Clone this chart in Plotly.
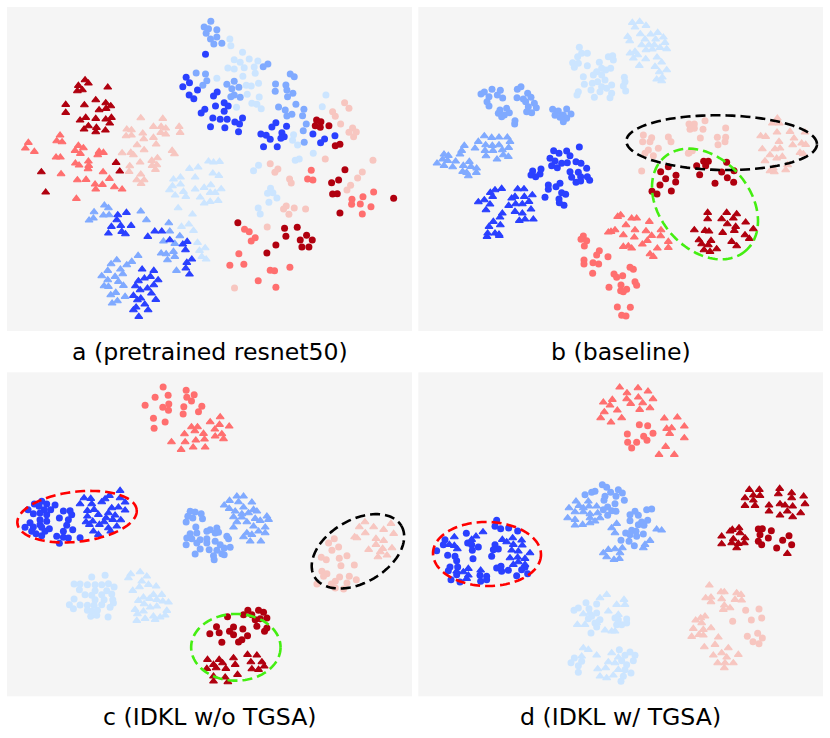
import math
import plotly.graph_objects as go

DARK = "#b0000f"
SALMON = "#ff6f6f"
PINK = "#f7c6c0"
LIGHT = "#cce5ff"
MID = "#80aaff"
BLUE = "#2a40ff"
BG = "#f5f5f5"

TITLES = ["a (pretrained resnet50)", "b (baseline)", "c (IDKL w/o TGSA)", "d (IDKL w/ TGSA)"]

# ---------- panel a ----------
A_DARK_TRI = [(255,240),(265,250),(235,257),(323,262),(232,273),(247,270),(197,314),(253,315),(287,300),(197,338),(317,309),(332,318),(297,330),(318,326),(257,353),(240,361),(287,356),(317,358),(334,353),(329,370),(265,378),(252,388),(289,383),(287,396),(316,391),(348,488),(359,514),(124,516),(137,577)]
A_SALMON_TRI = [(85,428),(76,445),(103,455),(180,406),(170,423),(186,426),(168,472),(181,472),(235,437),(250,444),(225,452),(241,461),(297,455),(310,458),(293,465),(226,490),(237,496),(265,484),(266,497),(264,507),(309,516),(183,522),(232,540),(258,539),(328,536),(285,553),(307,554),(287,568),(343,561),(366,568),(229,596)]
A_PINK_TRI = [(422,354),(488,356),(380,388),(394,390),(378,408),(394,406),(460,380),(483,380),(497,385),(537,380),(482,398),(497,403),(540,398),(428,400),(431,417),(460,413),(411,435),(468,433),(432,450),(366,459),(392,458),(400,465),(516,452),(523,462),(472,474),(455,482),(420,487),(389,498),(470,495),(456,497),(466,509),(387,515),(422,523),(410,540),(432,540),(423,551)]
A_LIGHT_TRI = [(625,484),(658,485),(640,487),(594,502),(568,506),(638,520),(585,532),(520,538),(541,532),(656,527),(632,555),(517,558),(541,553),(585,568),(612,563),(663,567),(508,570),(550,575),(525,586),(557,590),(630,578),(645,578),(600,592),(654,602),(630,605),(612,610),(534,624),(577,643),(566,673),(544,680),(580,692),(592,728),(615,744),(598,752),(605,770),(618,778)]
A_MID_TRI = [(313,616),(325,624),(282,636),(280,655),(267,661),(310,646),(327,645),(422,634),(439,660),(506,669),(509,694),(490,724),(524,731),(539,708),(520,755),(483,760),(498,762),(524,770),(502,780),(529,812),(414,767),(350,780),(333,792),(395,785),(380,795),(323,812),(361,808),(368,822),(345,830),(305,828),(355,845),(323,840),(312,858),(325,860),(370,857),(347,878),(332,885),(375,890),(352,903),(336,910)]
A_BLUE_TRI = [(379,638),(353,645),(350,660),(334,680),(362,677),(393,677),(365,695),(325,700),(376,702),(464,694),(485,694),(443,710),(509,720),(561,725),(548,733),(556,750),(575,778),(560,788),(557,805),(568,823),(426,808),(461,812),(451,830),(433,835),(474,840),(415,843),(406,858),(461,855),(420,870),(442,865),(400,887),(422,895),(454,880),(467,899),(412,900),(434,913),(408,922),(400,930),(444,930),(416,950)]
A_LIGHT_CIR = [(689,117),(692,137),(727,157),(702,179),(720,187),(747,177),(773,183),(683,204),(702,207),(732,203),(762,201),(765,220),(728,229),(650,235),(775,250),(738,256),(753,258),(741,283),(777,291),(755,310),(770,313),(783,326),(709,322),(977,285),(966,320),(880,404),(877,421),(892,435),(939,460),(885,481),(897,477),(775,496),(760,512),(811,565),(802,580),(818,578),(830,594),(806,607),(774,624),(780,642)]
A_MID_CIR = [(632,64),(612,81),(650,89),(625,86),(618,100),(650,111),(631,117),(641,132),(665,130),(803,192),(789,200),(588,219),(616,222),(620,242),(608,256),(702,244),(680,253),(716,262),(695,266),(702,285),(720,292),(692,290),(870,222),(882,230),(826,252),(825,274),(857,255),(860,270),(878,280),(862,290),(835,321),(855,330),(887,313),(911,328),(860,348),(875,343),(907,347),(918,372),(909,392),(912,427)]
A_BLUE_CIR = [(616,163),(558,232),(568,248),(548,260),(592,270),(567,285),(581,296),(651,276),(640,288),(646,318),(672,308),(684,318),(672,334),(614,328),(603,339),(638,354),(660,358),(681,358),(727,354),(704,366),(718,372),(631,380),(674,383),(715,395),(827,368),(815,381),(859,379),(782,402),(798,406),(810,418),(845,398),(852,410),(842,415),(790,440),(831,440),(938,402),(1004,407),(973,417),(961,428)]
A_PINK_CIR = [(1033,308),(1046,325),(997,335),(1005,349),(1021,372),(1057,384),(1046,397),(1068,396),(1060,410),(975,477),(1118,481),(810,491),(833,507),(824,517),(868,537),(873,549),(1086,516),(1072,534),(1051,556),(1040,570),(858,618),(850,627),(882,624),(916,627),(866,643),(801,681),(703,864)]
A_SALMON_CIR = [(933,511),(922,537),(938,540),(1120,576),(1055,598),(1088,590),(1054,613),(1080,612),(1112,620),(1086,642),(733,688),(747,695),(765,713),(753,723),(716,761),(689,796),(731,793),(810,811),(823,812),(869,802),(774,842),(827,862)]
A_DARK_CIR = [(949,360),(962,365),(945,377),(960,382),(986,377),(1005,437),(1019,433),(1034,509),(994,548),(1015,540),(997,582),(1011,581),(1019,639),(1180,595),(713,668),(853,685),(891,682),(857,709),(919,706),(900,720),(936,720),(905,741),(926,741),(827,735),(800,759)]

# ---------- panel b ----------
B_LIGHT_TRI = [(674,65),(652,68),(693,77),(660,82),(676,102),(707,103),(728,98),(638,110),(644,123),(690,118),(722,118),(745,112),(750,128),(680,135),(702,135),(718,135),(755,147),(735,143),(712,148),(693,150),(660,155),(645,160),(668,165),(655,175),(692,177),(726,172),(673,197),(740,187),(720,200),(755,210),(733,216),(742,232),(725,238),(740,243)]
B_LIGHT_CIR = [(493,142),(500,160),(517,160),(488,170),(473,188),(490,190),(478,202),(517,197),(553,187),(580,170),(593,167),(595,180),(587,205),(560,205),(572,210),(545,215),(505,230),(535,225),(560,225),(570,240),(628,232),(630,245),(548,245),(508,253),(532,250),(590,255),(560,260),(575,265),(625,258),(632,273),(490,275),(486,285),(528,270),(555,275),(590,280),(538,292),(585,293)]
B_MID_CIR = [(231,268),(208,276),(198,282),(256,271),(247,285),(263,294),(222,290),(216,305),(222,318),(318,260),(307,268),(338,280),(348,292),(306,293),(325,297),(332,305),(358,310),(364,323),(340,320),(335,335),(350,338),(275,325),(255,330),(250,340),(268,345),(283,338),(260,350),(300,362),(299,372),(413,328),(430,333),(455,327),(468,342),(445,345),(420,346),(435,352),(455,355),(445,365)]
B_MID_TRI = [(208,408),(230,413),(252,412),(277,412),(190,425),(285,425),(148,437),(180,445),(212,435),(232,437),(252,435),(281,443),(210,452),(234,452),(262,450),(140,452),(87,463),(100,467),(135,463),(213,468),(246,478),(265,465),(280,470),(83,478),(122,484),(98,482),(66,490),(87,497),(113,501),(163,485),(145,497),(185,505),(168,500),(143,515),(155,518),(184,518),(160,528)]
B_BLUE_CIR = [(493,441),(416,452),(455,453),(432,460),(465,467),(405,475),(420,483),(440,490),(457,488),(410,497),(427,503),(483,485),(498,490),(515,505),(378,507),(353,513),(348,525),(362,530),(375,522),(465,515),(490,517),(470,532),(497,530),(517,530),(524,541),(483,547),(497,543),(400,555),(435,550),(423,560),(400,568),(440,578),(452,583),(390,592),(432,597),(433,608),(447,616)]
B_BLUE_TRI = [(260,566),(240,570),(308,567),(327,567),(226,578),(233,590),(290,595),(300,590),(328,590),(352,585),(190,606),(208,600),(225,613),(213,630),(281,617),(302,612),(322,612),(342,605),(348,628),(300,635),(322,640),(262,640),(255,652),(235,665),(330,658),(355,658),(313,662),(222,680),(256,675),(218,700),(240,700),(252,703),(216,710),(253,707)]
B_SALMON_TRI = [(617,645),(608,650),(650,655),(665,655),(633,675),(703,665),(588,695),(600,690),(580,697),(660,690),(693,693),(738,690),(625,705),(710,707),(658,712),(737,708),(697,722),(760,725),(640,738),(625,740),(682,733),(650,745),(727,745),(760,743),(705,762),(715,770)]
B_SALMON_CIR = [(505,708),(498,718),(515,722),(508,738),(553,752),(545,765),(579,770),(507,780),(507,792),(534,788),(551,792),(533,820),(645,802),(655,808),(597,822),(605,832),(623,827),(660,845),(665,856),(582,862),(618,855),(635,868),(617,872),(625,875),(607,921),(646,922),(620,946),(633,948)]
B_PINK_CIR = [(685,405),(710,413),(683,425),(705,425),(760,411),(768,425),(700,450),(730,445),(690,460),(715,467),(680,513),(838,372),(822,372),(870,362),(825,388),(838,385),(864,388),(932,384),(856,414),(907,412),(932,412),(909,434),(930,425),(822,458),(832,452),(820,460)]
B_PINK_TRI = [(1087,355),(1072,370),(1093,370),(1170,397),(1086,397),(1125,395),(1037,408),(1052,410),(1137,415),(1092,425),(1160,430),(1172,434),(1133,435),(1042,447),(1080,447),(1095,445),(1065,465),(1155,458),(1165,462),(1102,470),(1085,475),(1050,483),(1118,495),(1075,505),(1112,510),(1065,513),(1078,516)]
B_DARK_CIR = [(866,484),(880,484),(872,497),(845,497),(935,487),(760,500),(737,515),(783,526),(752,536),(782,546),(735,555),(854,524),(920,516),(957,512),(937,533),(900,550),(956,547),(769,573),(711,574),(726,582)]
B_DARK_TRI = [(878,638),(935,638),(965,642),(955,655),(920,657),(878,657),(992,667),(937,672),(962,680),(838,690),(870,692),(882,694),(958,692),(923,698),(1015,687),(990,705),(1003,716),(852,720),(888,722),(950,725),(860,732),(880,735),(965,738),(867,750),(905,747),(885,755)]

# ---------- panel c ----------
C_SALMON_CIR = [(489,57),(558,67),(465,88),(504,82),(582,80),(560,88),(574,99),(435,112),(506,108),(488,118),(551,116),(605,115),(505,127),(595,131),(549,138),(460,151),(495,162),(462,181)]
C_SALMON_TRI = [(660,147),(630,162),(658,170),(687,175),(574,177),(592,177),(644,184),(584,189),(553,198),(610,197),(645,205),(665,198),(514,222),(555,222),(587,217),(613,214),(670,213),(579,238),(615,238),(543,245)]
C_BLUE_CIR = [(125,400),(103,408),(140,408),(165,411),(84,425),(117,415),(133,425),(152,425),(100,437),(120,435),(140,440),(190,429),(210,428),(215,440),(178,450),(120,455),(140,460),(205,455),(90,464),(120,470),(75,478),(100,477),(125,478),(148,482),(200,472),(218,485),(95,490),(135,490),(190,490),(108,497),(125,503),(170,505),(190,508),(205,510),(240,509),(178,526)]
C_BLUE_TRI = [(360,368),(328,383),(252,390),(272,392),(315,393),(360,390),(240,408),(275,408),(305,402),(375,403),(335,420),(355,418),(262,428),(282,425),(375,427),(325,435),(345,442),(262,445),(295,440),(318,450),(338,455),(258,462),(278,460),(312,462),(362,456),(268,470),(298,470),(325,480),(350,475),(280,490),(332,490),(295,500)]
C_MID_CIR = [(570,430),(585,432),(603,437),(563,445),(578,450),(607,452),(558,462),(587,477),(630,485),(650,480),(620,490),(645,495),(655,493),(570,497),(590,495),(680,505),(685,512),(560,510),(575,512),(600,515),(620,512),(645,520),(558,530),(590,525),(620,525),(660,530),(600,543),(627,545),(672,540),(690,538),(650,547),(585,558),(665,557),(640,563),(672,560),(642,575)]
C_MID_TRI = [(710,385),(730,385),(688,398),(715,402),(755,403),(672,412),(687,422),(730,418),(705,430),(760,425),(725,438),(745,435),(770,430),(700,447),(725,448),(765,452),(800,445),(780,458),(805,455),(710,462),(740,462),(700,478),(760,475),(795,478),(775,490),(740,495),(755,500),(795,495),(730,507),(750,520),(782,520)]
C_LIGHT_CIR = [(315,622),(275,627),(222,648),(240,648),(262,650),(285,650),(305,650),(325,647),(342,657),(238,665),(285,668),(320,668),(255,680),(275,682),(305,680),(335,678),(222,693),(285,695),(312,695),(338,695),(208,710),(240,711),(220,722),(262,712),(282,712),(305,710),(340,705),(330,718),(275,730),(292,727),(262,727),(272,745),(290,742),(324,747)]
C_LIGHT_TRI = [(420,612),(392,618),(385,630),(440,625),(425,640),(445,650),(418,657),(398,668),(468,655),(460,680),(430,688),(485,680),(448,692),(505,703),(415,698),(470,695),(488,700),(432,708),(405,725),(450,718),(470,715),(500,728),(430,730),(412,738),(460,745),(495,742),(480,748),(410,758),(435,752),(465,755)]
C_PINK_TRI = [(1094,462),(1172,467),(1077,477),(1120,477),(1150,485),(1095,495),(1180,497),(1063,507),(1070,510),(1127,512),(1150,518),(1127,530),(1105,545),(1147,542),(1175,540),(1140,552),(1133,567),(1160,562)]
C_PINK_CIR = [(1002,512),(985,525),(1015,537),(995,547),(963,568),(978,575),(1017,571),(1040,563),(1022,593),(1062,591),(965,610),(980,617),(970,625),(1018,627),(1047,625),(1068,635),(1005,640),(950,648),(993,648),(1040,645),(1005,660),(1030,663)]
C_DARK_CIR = [(743,727),(775,727),(790,733),(682,746),(730,740),(755,740),(800,750),(765,755),(780,752),(649,776),(700,777),(728,783),(770,775),(688,790),(800,780),(793,790),(629,797),(657,794),(700,800),(742,803),(725,815),(665,823),(715,822)]
C_DARK_TRI = [(742,860),(622,875),(657,875),(700,870),(770,862),(752,882),(640,890),(667,885),(785,882),(705,890),(620,902),(648,900),(677,902),(792,895),(755,903),(775,905),(712,920),(640,925),(675,928),(640,940),(683,942)]

# ---------- panel d ----------
D_SALMON_TRI = [(614,58),(669,60),(699,70),(636,75),(592,95),(565,103),(670,88),(714,93),(635,93),(683,105),(647,107),(585,112),(705,120),(674,125),(607,127),(568,132),(620,150),(557,150),(588,163),(787,148),(748,151),(770,180),(755,182),(808,175),(764,197),(808,210),(752,236),(732,260),(778,260)]
D_SALMON_CIR = [(673,170),(698,173),(714,196),(637,198),(686,205),(696,217),(665,223),(638,223),(650,240)]
D_DARK_TRI = [(1003,365),(1033,365),(1094,362),(990,390),(1015,382),(1035,383),(1090,378),(1130,375),(1166,385),(1015,397),(1130,390),(990,413),(1020,413),(1062,412),(1095,408),(1110,412),(1170,408),(1133,415),(1062,430),(1117,430),(1095,442),(1157,435),(1133,447),(952,485),(972,480),(920,505),(945,490),(975,495),(955,513),(990,510),(920,528),(950,525),(970,527),(988,525),(965,540),(1117,557)]
D_DARK_CIR = [(1030,483),(1042,482),(1069,488),(1035,500),(1060,510),(1122,503),(1103,517),(1030,520),(1040,530),(1130,530),(1085,540)]
D_MID_CIR = [(562,350),(575,358),(540,370),(530,373),(510,380),(587,373),(610,365),(622,375),(570,385),(603,385),(567,397),(628,397),(600,407),(578,417),(565,425),(590,428),(603,430),(578,442),(710,423),(695,425),(660,430),(645,440),(670,442),(698,457),(645,458),(680,462),(670,470),(687,472),(650,487),(663,490),(632,495),(645,500),(685,498),(665,505),(618,517),(642,520),(658,533)]
D_MID_TRI = [(483,400),(520,400),(462,420),(505,420),(492,413),(522,415),(545,415),(480,432),(505,432),(525,438),(548,435),(458,450),(480,455),(525,450),(555,450),(540,460),(480,472),(503,470),(525,465),(605,467),(590,480),(725,484),(740,487),(600,495),(705,518),(622,540),(690,530),(685,540),(600,543),(565,555),(580,545),(615,555),(575,567),(597,575),(613,572)]
D_BLUE_CIR = [(245,457),(240,475),(257,482),(281,480),(308,489),(154,496),(90,515),(158,525),(240,530),(170,530),(190,537),(85,530),(250,543),(235,545),(65,548),(172,547),(230,565),(98,562),(120,565),(125,578),(174,572),(258,595),(245,600),(128,597),(105,597),(100,608),(280,607),(260,610),(330,598),(320,605),(338,617),(305,623),(125,620),(108,635),(195,622),(215,625),(197,640),(215,635),(135,642)]
D_BLUE_TRI = [(204,492),(183,505),(118,507),(262,515),(293,510),(320,517),(170,515),(275,522),(103,530),(118,533),(295,530),(322,532),(290,547),(345,555),(310,550),(127,543),(308,568),(330,572),(285,570),(310,582),(330,590),(295,590),(160,602),(197,607),(145,612),(160,622),(155,632),(125,610)]
D_LIGHT_TRI = [(575,680),(627,695),(555,690),(605,710),(630,710),(505,738),(525,735),(580,730),(610,740),(487,770),(510,770),(545,765),(570,787),(590,790),(600,790),(505,840),(520,845),(545,862),(500,865),(590,855),(610,868),(580,882),(600,885),(548,903),(572,900),(555,925),(595,922),(575,930),(610,905)]
D_LIGHT_CIR = [(513,704),(490,720),(477,727),(545,708),(522,722),(610,755),(635,753),(545,735),(530,745),(555,755),(520,752),(600,750),(540,765),(635,765),(605,770),(545,777),(620,770),(528,795),(613,845),(645,852),(630,862),(660,862),(478,870),(468,884),(620,878),(655,878),(490,893),(500,880),(635,890),(490,913),(630,905),(648,915),(625,925),(618,940)]
D_PINK_TRI = [(883,652),(928,672),(918,672),(965,675),(978,680),(872,690),(888,688),(920,693),(960,695),(980,697),(888,702),(928,712),(945,720),(925,725),(870,745),(857,750),(842,757),(860,765),(888,780),(835,782),(865,785),(852,800),(830,806),(865,802),(910,808),(900,830),(868,837),(940,840),(920,855),(895,862),(970,860),(908,885),(935,868),(930,885),(955,885),(928,900)]
D_PINK_CIR = [(992,727),(1032,723),(1040,750),(1009,756),(953,760),(997,805),(1028,796),(1042,810),(1014,821),(1032,827)]

# Ellipse outlines: centre x, centre y, semi-axis a, semi-axis b, tilt in degrees, colour
B_ELLIPSES = [(920, 428, 286, 82, 1, "#000000"), (870, 612, 186, 135, 49, "#44ee11")]
C_ELLIPSES = [(231, 446, 180, 75, -6.6, "#ff0000"), (1073, 550, 151, 94, -30.5, "#000000"), (707, 838, 134, 100, 0, "#44ee11")]
D_ELLIPSES = [(216, 558, 162, 96, 1, "#ff0000")]

PANELS = [
    dict(series=[(A_DARK_TRI,DARK,"t"),(A_SALMON_TRI,SALMON,"t"),(A_PINK_TRI,PINK,"t"),(A_LIGHT_TRI,LIGHT,"t"),(A_MID_TRI,MID,"t"),(A_BLUE_TRI,BLUE,"t"),
                 (A_LIGHT_CIR,LIGHT,"c"),(A_MID_CIR,MID,"c"),(A_BLUE_CIR,BLUE,"c"),(A_PINK_CIR,PINK,"c"),(A_SALMON_CIR,SALMON,"c"),(A_DARK_CIR,DARK,"c")],
         ellipses=[], xr=(21,1235), yr=(993,21), px=(7,412), py=(7,331)),
    dict(series=[(B_LIGHT_TRI,LIGHT,"t"),(B_LIGHT_CIR,LIGHT,"c"),(B_MID_CIR,MID,"c"),(B_MID_TRI,MID,"t"),(B_BLUE_CIR,BLUE,"c"),(B_BLUE_TRI,BLUE,"t"),
                 (B_SALMON_TRI,SALMON,"t"),(B_SALMON_CIR,SALMON,"c"),(B_PINK_CIR,PINK,"c"),(B_PINK_TRI,PINK,"t"),(B_DARK_CIR,DARK,"c"),(B_DARK_TRI,DARK,"t")],
         ellipses=B_ELLIPSES, xr=(10,1224), yr=(993,21), px=(418.33,823), py=(7,331)),
    dict(series=[(C_SALMON_CIR,SALMON,"c"),(C_SALMON_TRI,SALMON,"t"),(C_BLUE_CIR,BLUE,"c"),(C_BLUE_TRI,BLUE,"t"),(C_MID_CIR,MID,"c"),(C_MID_TRI,MID,"t"),
                 (C_LIGHT_CIR,LIGHT,"c"),(C_LIGHT_TRI,LIGHT,"t"),(C_PINK_TRI,PINK,"t"),(C_PINK_CIR,PINK,"c"),(C_DARK_CIR,DARK,"c"),(C_DARK_TRI,DARK,"t")],
         ellipses=C_ELLIPSES, xr=(21,1235), yr=(985,13), px=(7,412), py=(372.33,696.33)),
    dict(series=[(D_SALMON_TRI,SALMON,"t"),(D_SALMON_CIR,SALMON,"c"),(D_DARK_TRI,DARK,"t"),(D_DARK_CIR,DARK,"c"),(D_MID_CIR,MID,"c"),(D_MID_TRI,MID,"t"),
                 (D_BLUE_CIR,BLUE,"c"),(D_BLUE_TRI,BLUE,"t"),(D_LIGHT_TRI,LIGHT,"t"),(D_LIGHT_CIR,LIGHT,"c"),(D_PINK_TRI,PINK,"t"),(D_PINK_CIR,PINK,"c")],
         ellipses=D_ELLIPSES, xr=(10,1224), yr=(985,13), px=(418.33,823), py=(372.33,696.33)),
]

W, H = 830, 738
TITLE_Y = [352, 352, 717, 717]

fig = go.Figure()
layout = dict(width=W, height=H, autosize=False, margin=dict(l=0, r=0, t=0, b=0),
              paper_bgcolor="white", plot_bgcolor=BG, showlegend=False)
shapes, annotations = [], []


def ellipse_path(cx, cy, a, b, deg):
    t = math.radians(deg)
    pts = []
    for i in range(121):
        u = 2 * math.pi * i / 120
        ex, ey = a * math.cos(u), b * math.sin(u)
        pts.append((cx + ex * math.cos(t) - ey * math.sin(t), cy + ex * math.sin(t) + ey * math.cos(t)))
    return "M" + " L".join(f"{x:.1f},{y:.1f}" for x, y in pts)


for i, p in enumerate(PANELS):
    n = "" if i == 0 else str(i + 1)
    layout[f"xaxis{n}"] = dict(domain=[p["px"][0] / W, p["px"][1] / W], range=list(p["xr"]), visible=False,
                               anchor=f"y{n}", fixedrange=True)
    layout[f"yaxis{n}"] = dict(domain=[1 - p["py"][1] / H, 1 - p["py"][0] / H], range=list(p["yr"]), visible=False,
                               anchor=f"x{n}", fixedrange=True)
    for pts, col, kind in p["series"]:
        tri = kind == "t"
        fig.add_trace(go.Scatter(
            x=[q[0] for q in pts], y=[q[1] for q in pts], mode="markers", xaxis=f"x{n}", yaxis=f"y{n}",
            marker=dict(color=col, size=6.8 if tri else 7.0,
                        symbol="triangle-up" if tri else "circle",
                        line=dict(width=1.1 if tri else 0, color=col)),
            hoverinfo="skip"))
    for cx, cy, a, b, deg, col in p["ellipses"]:
        shapes.append(dict(type="path", path=ellipse_path(cx, cy, a, b, deg), xref=f"x{n}", yref=f"y{n}",
                           line=dict(color=col, width=2.6, dash="10px,5px"), layer="above"))
    annotations.append(dict(text=TITLES[i], xref="paper", yref="paper",
                            x=(p["px"][0] + p["px"][1]) / 2 / W, y=1 - TITLE_Y[i] / H,
                            xanchor="center", yanchor="middle", showarrow=False,
                            font=dict(family="DejaVu Sans", size=23.6, color="black")))

fig.update_layout(shapes=shapes, annotations=annotations, **layout)
fig.write_html("out.html", post_script="document.body.style.margin='0';", config={"displayModeBar": False})
